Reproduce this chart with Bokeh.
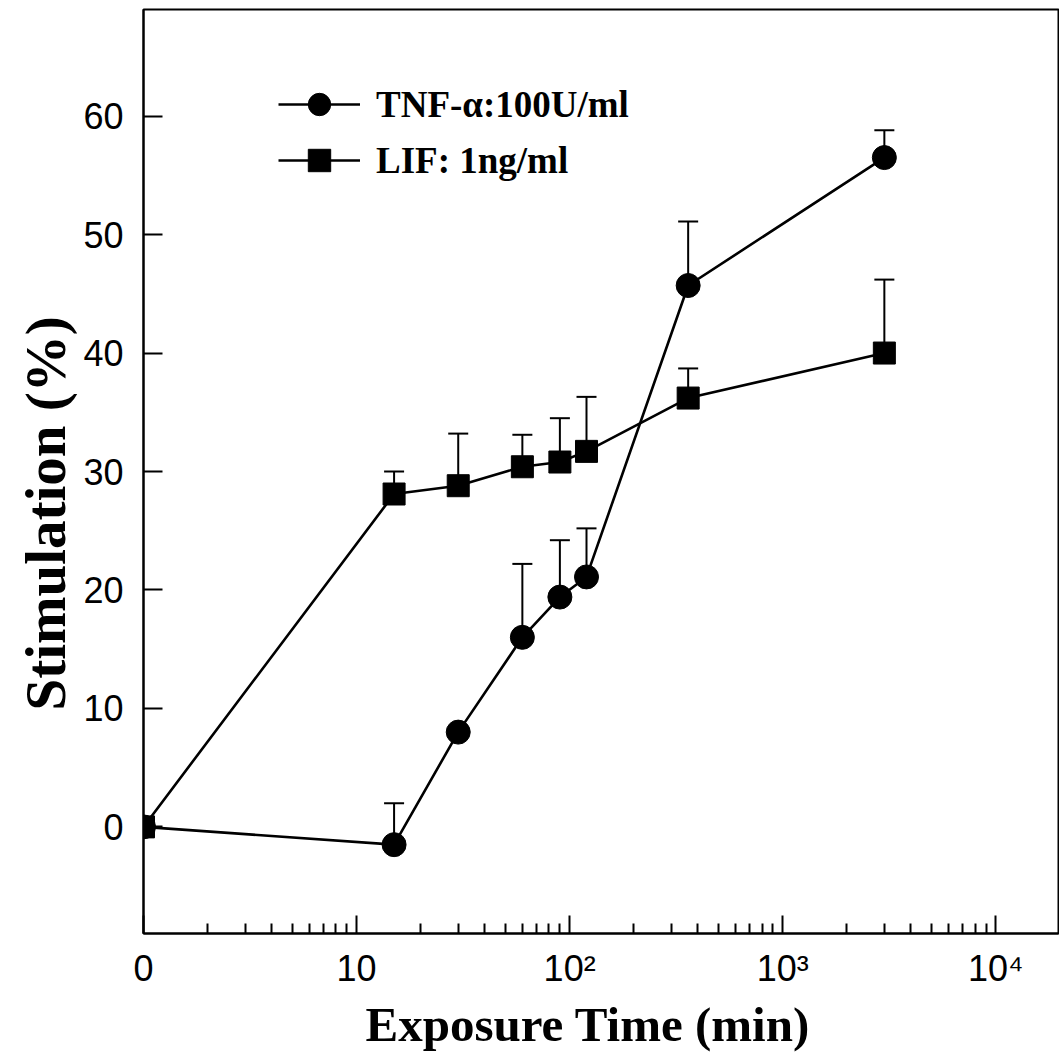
from bokeh.plotting import figure
from bokeh.models import FixedTicker, Whisker, TeeHead, ColumnDataSource, Range1d, Title
from bokeh.embed import file_html
from bokeh.resources import INLINE

# ---- data ----
times = [0, 15, 30, 60, 90, 120, 360, 3000]          # minutes
tnf_mean = [0, -1.5, 8.0, 16.0, 19.4, 21.1, 45.7, 56.5]
tnf_err = [0, 3.5, 0, 6.2, 4.8, 4.1, 5.4, 2.3]
lif_mean = [0, 28.1, 28.8, 30.4, 30.8, 31.7, 36.2, 40.0]
lif_err = [0, 1.9, 4.4, 2.7, 3.7, 4.6, 2.5, 6.2]

x_tick_values = [1, 10, 100, 1000, 10000]
x_tick_labels = ["0", "10", "10²", "10³", "10⁴"]
y_tick_values = [0, 10, 20, 30, 40, 50, 60]

tnf_label = "TNF-α:100U/ml"
lif_label = "LIF: 1ng/ml"
x_title = "Exposure Time (min)"
y_title = "Stimulation (%)"

# time 0 is drawn at the axis origin (value 1 on the log axis, labelled "0")
x_pos = [t if t > 0 else 1 for t in times]

p = figure(width=1059, height=1056, x_axis_type="log",
           x_range=Range1d(1, 19700), y_range=Range1d(-9, 69),
           output_backend="svg", toolbar_location=None,
           min_border_left=143, min_border_right=1,
           min_border_top=9, min_border_bottom=123)
p.background_fill_color = "white"
p.border_fill_color = "white"
p.grid.visible = False
p.outline_line_color = "black"
p.outline_line_width = 2

# axes
minor = [m * 10 ** d for d in range(0, 4) for m in range(2, 10)]
p.xaxis.ticker = FixedTicker(ticks=x_tick_values, minor_ticks=minor)
p.xaxis.major_label_overrides = {v: s for v, s in zip(x_tick_values, x_tick_labels)}
p.yaxis.ticker = FixedTicker(ticks=y_tick_values, minor_ticks=[])
for ax in (p.xaxis, p.yaxis):
    ax.axis_line_width = 2
    ax.axis_line_color = "black"
    ax.major_tick_line_width = 2
    ax.minor_tick_line_width = 2
    ax.major_tick_line_color = "black"
    ax.minor_tick_line_color = "black"
    ax.major_tick_out = 0
    ax.minor_tick_out = 0
    ax.major_label_text_font = "Liberation Sans"
    ax.major_label_text_font_size = "36px"
    ax.major_label_text_color = "black"
p.xaxis.major_tick_in = 18
p.xaxis.minor_tick_in = 10
p.xaxis.major_label_standoff = 14
p.yaxis.major_tick_in = 19
p.yaxis.minor_tick_in = 0
p.yaxis.major_label_standoff = 20

# error bars (upper only)
def err_source(means, errs):
    xs, lo, hi = [], [], []
    for x, m, e in zip(x_pos, means, errs):
        if e > 0:
            xs.append(x); lo.append(m); hi.append(m + e)
    return ColumnDataSource(dict(x=xs, lower=lo, upper=hi))

for means, errs in ((tnf_mean, tnf_err), (lif_mean, lif_err)):
    w = Whisker(source=err_source(means, errs), base="x", lower="lower", upper="upper",
                dimension="height", line_color="black", line_width=2,
                lower_head=None,
                upper_head=TeeHead(size=20, line_color="black", line_width=2))
    p.add_layout(w)

# series
p.line(x_pos, tnf_mean, line_color="black", line_width=2.6, legend_label=tnf_label)
p.scatter(x_pos, tnf_mean, marker="circle", size=24, fill_color="black",
          line_color="black", legend_label=tnf_label)
p.line(x_pos, lif_mean, line_color="black", line_width=2.6, legend_label=lif_label)
p.scatter(x_pos, lif_mean, marker="square", size=22, fill_color="black",
          line_color="black", legend_label=lif_label)

# legend
lg = p.legend[0]
lg.location = (135, 745)
lg.padding = 0
lg.spacing = 0
lg.margin = 0
lg.glyph_width = 82
lg.glyph_height = 56
lg.label_height = 56
lg.label_standoff = 16
lg.label_text_font = "Liberation Serif"
lg.label_text_font_style = "bold"
lg.label_text_font_size = "37px"
lg.label_text_color = "black"
lg.border_line_color = None
lg.background_fill_alpha = 0

# axis titles
p.add_layout(Title(text=x_title, align="left", offset=222, standoff=6,
                   text_font="Liberation Serif", text_font_style="bold",
                   text_font_size="49px", text_color="black"), "below")
p.add_layout(Title(text=y_title, align="left", offset=223, standoff=7,
                   text_font="Liberation Serif", text_font_style="bold",
                   text_font_size="57px", text_color="black"), "left")

open("out.html", "w").write(file_html(p, INLINE))
